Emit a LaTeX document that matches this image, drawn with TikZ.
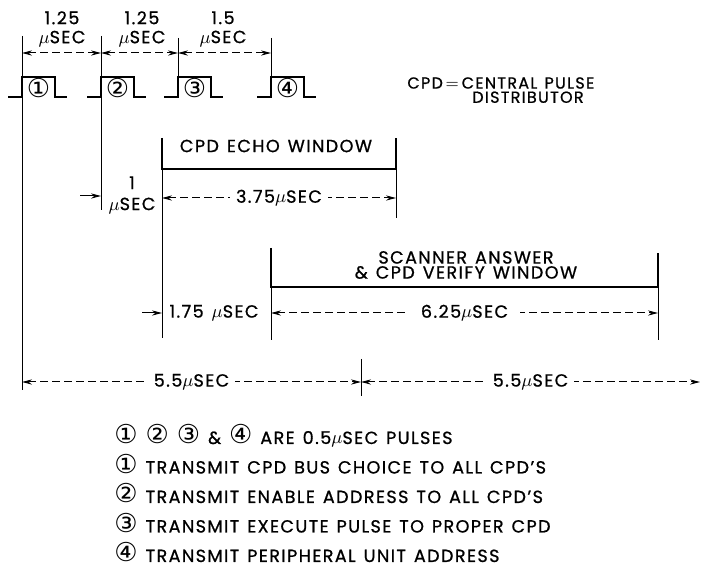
\documentclass[tikz,border=0pt]{standalone}
\usepackage{fontspec}
\setmainfont{Poppins}[LetterSpace=8, WordSpace=1.3, FakeBold=0.8]
\newfontfamily\circfont{DejaVu Sans}
\usetikzlibrary{arrows.meta, positioning, calc}
\newcommand{\cn}[1]{{\circfont\fontsize{13}{13}\selectfont #1}}

\begin{document}
\begin{tikzpicture}[
        x = 0.5pt, y = -0.5pt,
        txt/.style = {
            font = \fontsize{8.8}{9.5}\selectfont,
            inner sep = 1pt
        },
        pulse/.style = {line width = 1pt},
        ext/.style = {line width = 0.5pt},
        win/.style = {line width = 0.8pt},
        dim/.style = {
            {Stealth[length = 5pt, width = 2.6pt]}-{Stealth[length = 5pt, width = 2.6pt]},
            line width = 0.5pt,
            dash pattern = on 4pt off 2pt
        },
        sarr/.style = {
            -{Stealth[length = 5pt, width = 2.6pt]},
            line width = 0.5pt
        },
        gap/.style = {txt, fill = white, inner xsep = 3pt}
    ]
        \useasboundingbox (0,0) rectangle (702,566);

        % pulses
        \foreach \n/\s/\c in {1/22/①, 2/101/②, 3/178/③, 4/271/④} {
            \draw[pulse] (\s-14,97) -- (\s,97) -- (\s,77) -- (\s+33,77) -- (\s+33,97) -- (\s+45,97);
            \node[txt] (p\n) at (\s+16.5,88) {\cn{\c}};
        }

        % extension lines
        \draw[ext] (22,36) -- (22,390);
        \draw[ext] (101,36) -- (101,210);
        \draw[ext] (178,38) -- (178,77);
        \draw[ext] (271,38) -- (271,77);
        \draw[ext] (162,169) -- (162,338);
        \draw[ext] (396,169) -- (396,218);
        \draw[ext] (271,287) -- (271,340);
        \draw[ext] (658,287) -- (658,340);
        \draw[ext] (361,359) -- (361,396);

        % windows
        \draw[win] (162,138) -- (162,169) -- (396,169) -- (396,138);
        \draw[win] (271,248) -- (271,287) -- (658,287) -- (658,253);
        \node[txt] (ew) at (276,146) {CPD ECHO WINDOW};
        \node[txt, align = center] (sw) at (466,265) {SCANNER ANSWER\\[-2pt]\& CPD VERIFY WINDOW};

        % pulse spacing
        \coordinate (a0) at (22,53);
        \coordinate (a1) at (101,53);
        \coordinate (a2) at (178,53);
        \coordinate (a3) at (271,53);
        \draw[dim] (a0) -- (a1);
        \draw[dim] (a1) -- (a2);
        \draw[dim] (a2) -- (a3);
        \node[txt, align = center] (l1) at (62,29) {1.25\\$\mu$SEC};
        \node[txt, align = center] (l2) at (142,29) {1.25\\$\mu$SEC};
        \node[txt, align = center] (l3) at (223,29) {1.5\\$\mu$SEC};

        % echo window timing
        \coordinate (b0) at (80,196);
        \coordinate (b1) at (101,196);
        \draw[sarr] (b0) -- (b1);
        \node[txt, align = center] (d1) at (132,195) {1\\[1pt]$\mu$SEC};
        \coordinate (e0) at (162,198);
        \coordinate (e1) at (396,198);
        \draw[dim] (e0) -- node[gap] (d2) {3.75$\mu$SEC} (e1);

        % verify window timing
        \coordinate (c0) at (142,313);
        \coordinate (c1) at (162,313);
        \draw[sarr] (c0) -- (c1);
        \node[txt] (d3) at (214,313) {1.75 $\mu$SEC};
        \coordinate (g0) at (271,313);
        \coordinate (g1) at (658,313);
        \draw[dim] (g0) -- node[gap, inner xsep = 6pt] (d4) {6.25$\mu$SEC} (g1);

        % total period
        \coordinate (f0) at (22,382);
        \coordinate (f1) at (361,382);
        \coordinate (f2) at (700,382);
        \draw[dim] (f0) -- node[gap] (d5) {5.5$\mu$SEC} (f1);
        \draw[dim] (f1) -- node[gap] (d6) {5.5$\mu$SEC} (f2);

        % definition
        \node[txt, font = \fontsize{8}{9}\selectfont, anchor = west, inner xsep = 0pt] (cpd) at (407,83) {CPD$\,=$};
        \node[txt, font = \fontsize{8}{9}\selectfont, anchor = west] (cen) at (cpd.east) {CENTRAL PULSE};
        \node[txt, font = \fontsize{8}{9}\selectfont, below = -1pt of cen] (dis) {DISTRIBUTOR};

        % legend
        \node[txt, anchor = base west] (n0) at (112,444) {\cn{①} \cn{②} \cn{③} \& \cn{④} ARE 0.5$\mu$SEC PULSES};
        \foreach \c/\t [count = \i] in {①/TRANSMIT CPD BUS CHOICE TO ALL CPD'S,
                ②/TRANSMIT ENABLE ADDRESS TO ALL CPD'S,
                ③/TRANSMIT EXECUTE PULSE TO PROPER CPD,
                ④/TRANSMIT PERIPHERAL UNIT ADDRESS} {
            \node[txt, anchor = base west] (n\i) at (112,444+29.5*\i) {\cn{\c}\ \t};
        }
    \end{tikzpicture}
\end{document}
